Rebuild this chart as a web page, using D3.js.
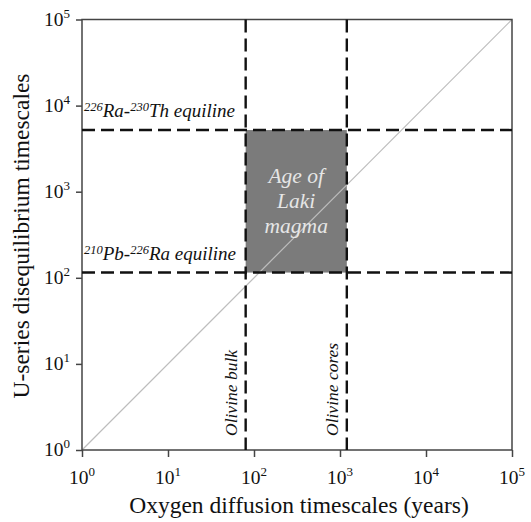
<!DOCTYPE html>
<html><head><meta charset="utf-8">
<script src="https://cdn.jsdelivr.net/npm/d3@7"></script>
<style>body{margin:0;background:#fff}svg{display:block}</style>
</head><body><div id="c"></div>
<script>
const xDomain = [1, 1e5];
const yDomain = [1, 1e5];
const tickExps = [0, 1, 2, 3, 4, 5];
const verticalLines = [{x: 80, label: "Olivine bulk"}, {x: 1200, label: "Olivine cores"}];
const horizontalLines = [
  {y: 5200, sup1: "226", el1: "Ra-", sup2: "230", el2: "Th equiline"},
  {y: 115, sup1: "210", el1: "Pb-", sup2: "226", el2: "Ra equiline"}
];
const boxLabel = ["Age of", "Laki", "magma"];
const diagonal = [[1, 1], [1e5, 1e5]];
const xTitle = "Oxygen diffusion timescales (years)";
const yTitle = "U-series disequilibrium timescales";

const SERIF = "'Liberation Serif', 'Times New Roman', 'DejaVu Serif', serif";
const W = 531, H = 522;
const m = {l: 82, r: 19, t: 19.5, b: 72};
const svg = d3.select("#c").append("svg").attr("width", W).attr("height", H)
  .style("font-family", SERIF);
const x = d3.scaleLog().domain(xDomain).range([m.l, W - m.r]);
const y = d3.scaleLog().domain(yDomain).range([H - m.b, m.t]);
const T = (sel) => sel.append("text").style("font-family", SERIF);

// grey box
svg.append("rect")
  .attr("x", x(verticalLines[0].x)).attr("width", x(verticalLines[1].x) - x(verticalLines[0].x))
  .attr("y", y(horizontalLines[0].y)).attr("height", y(horizontalLines[1].y) - y(horizontalLines[0].y))
  .attr("fill", "#7b7b7b");

// diagonal
svg.append("line").attr("x1", x(diagonal[0][0])).attr("y1", y(diagonal[0][1]))
  .attr("x2", x(diagonal[1][0])).attr("y2", y(diagonal[1][1]))
  .attr("stroke", "#bdbdbd").attr("stroke-width", 1.2);

// frame
svg.append("rect").attr("x", m.l).attr("y", m.t).attr("width", W - m.r - m.l).attr("height", H - m.b - m.t)
  .attr("fill", "none").attr("stroke", "#444").attr("stroke-width", 1.5);

// dashed lines
verticalLines.forEach(v => {
  svg.append("line").attr("x1", x(v.x)).attr("x2", x(v.x)).attr("y1", y.range()[1]).attr("y2", y.range()[0])
    .attr("stroke", "#111").attr("stroke-width", 2.4).attr("stroke-dasharray", "13,6");
});
horizontalLines.forEach(h => {
  svg.append("line").attr("y1", y(h.y)).attr("y2", y(h.y)).attr("x1", x.range()[0]).attr("x2", x.range()[1])
    .attr("stroke", "#111").attr("stroke-width", 2.4).attr("stroke-dasharray", "13,6");
});

// axes
const fmt = () => "";
const xAxis = svg.append("g").attr("transform", `translate(0,${H - m.b})`)
  .call(d3.axisBottom(x).tickValues(tickExps.map(e => Math.pow(10, e))).tickFormat(fmt).tickSize(7).tickSizeOuter(0));
const yAxis = svg.append("g").attr("transform", `translate(${m.l},0)`)
  .call(d3.axisLeft(y).tickValues(tickExps.map(e => Math.pow(10, e))).tickFormat(fmt).tickSize(6).tickSizeOuter(0));
[xAxis, yAxis].forEach(a => {
  a.select(".domain").remove();
  a.selectAll(".tick line").attr("stroke", "#444").attr("stroke-width", 1.5);
});

// tick labels
tickExps.forEach(e => {
  const t = T(svg).attr("x", x(Math.pow(10, e))).attr("y", 484).attr("text-anchor", "middle")
    .attr("font-size", 19.5).attr("fill", "#111");
  t.append("tspan").text("10");
  t.append("tspan").attr("font-size", 13).attr("dy", -8).text(e);
  const u = T(svg).attr("x", 70).attr("y", y(Math.pow(10, e)) + 6).attr("text-anchor", "end")
    .attr("font-size", 19.5).attr("fill", "#111");
  u.append("tspan").text("10");
  u.append("tspan").attr("font-size", 13).attr("dy", -8).text(e);
});

// axis titles
T(svg).attr("x", 299).attr("y", 513).attr("text-anchor", "middle")
  .attr("font-size", 23.5).attr("fill", "#111").text(xTitle);
T(svg).attr("transform", `translate(29,236) rotate(-90)`)
  .attr("text-anchor", "middle").attr("font-size", 23.5).attr("fill", "#111").text(yTitle);

// equiline labels
horizontalLines.forEach(h => {
  const t = T(svg).attr("x", 84).attr("y", y(h.y) - 13).attr("font-size", 19)
    .attr("font-style", "italic").attr("fill", "#111");
  t.append("tspan").attr("font-size", 12.5).attr("dy", -6).text(h.sup1);
  t.append("tspan").attr("dy", 6).text(h.el1);
  t.append("tspan").attr("font-size", 12.5).attr("dy", -6).text(h.sup2);
  t.append("tspan").attr("dy", 6).text(h.el2);
});

// vertical labels
verticalLines.forEach(v => {
  T(svg).attr("transform", `translate(${x(v.x) - 9},${H - m.b - 14}) rotate(-90)`)
    .attr("font-size", 17.5).attr("font-style", "italic").attr("fill", "#111").text(v.label);
});

// box label
const bx = (x(verticalLines[0].x) + x(verticalLines[1].x)) / 2;
boxLabel.forEach((s, i) => {
  T(svg).attr("x", bx).attr("y", 183 + i * 25).attr("text-anchor", "middle")
    .attr("font-size", 21.5).attr("font-style", "italic").attr("fill", "#e6e6e6").text(s);
});
</script></body></html>
